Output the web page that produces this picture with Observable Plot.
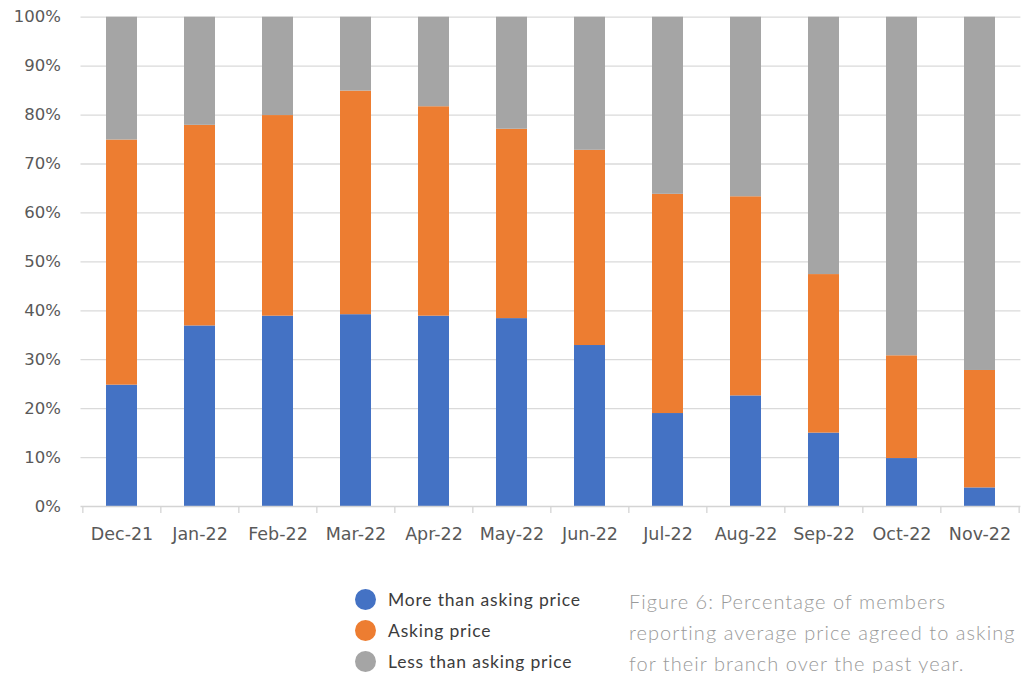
<!DOCTYPE html>
<html><head><meta charset="utf-8">
<script src="https://cdn.jsdelivr.net/npm/d3@7"></script>
<script src="https://cdn.jsdelivr.net/npm/@observablehq/plot@0.6"></script>
<style>
html,body{margin:0;padding:0;background:#fff;}
body{width:1024px;height:673px;overflow:hidden;position:relative;}
#chart{position:absolute;left:0;top:0;}
#chart svg, #chart svg text{font-family:"DejaVu Sans",sans-serif !important;}
.legend{position:absolute;left:355px;top:584px;font-family:Lato,"Open Sans",sans-serif;font-size:17.5px;letter-spacing:0.8px;color:#3c3c3c;}
.legend .row{height:31px;display:flex;align-items:center;}
.legend .sw{width:21px;height:21px;border-radius:50%;margin-right:12px;flex:none;}
.caption{position:absolute;left:629px;top:586px;font-family:Lato,sans-serif;font-weight:300;font-size:20px;letter-spacing:1.05px;line-height:31px;color:#9a9a9a;white-space:nowrap;}
</style>
</head><body>
<div id="chart"></div>
<div class="legend" id="legend"></div>
<div class="caption">Figure 6: Percentage of members<br>reporting average price agreed to asking<br>for their branch over the past year.</div>
<script>
const months = ["Dec-21","Jan-22","Feb-22","Mar-22","Apr-22","May-22","Jun-22","Jul-22","Aug-22","Sep-22","Oct-22","Nov-22"];
const seriesNames = ["More than asking price","Asking price","Less than asking price"];
const moreThan = [24.8,36.9,38.9,39.2,38.9,38.4,32.9,19.0,22.6,15.0,9.8,3.8];
const asking   = [50.1,41.0,41.0,45.7,42.8,38.7,39.9,44.8,40.7,32.4,21.0,24.0];
const lessThan = [25.1,22.1,20.1,15.1,18.3,22.9,27.2,36.2,36.7,52.6,69.2,72.2];
const colors = ["#4472C4","#ED7D31","#A5A5A5"];
const yTicks = [0,10,20,30,40,50,60,70,80,90,100];
const gridTicks = [10,20,30,40,50,60,70,80,90,100];

const seriesValues = [moreThan, asking, lessThan];
const data = months.flatMap((m, i) => seriesNames.map((s, k) => ({month: m, series: s, value: seriesValues[k][i]})));

const step = (1024 - 80.5 - 3.6) / months.length;

const chart = Plot.plot({
  width: 1024,
  height: 560,
  marginLeft: 80.5,
  marginRight: 3.6,
  marginTop: 16.7,
  marginBottom: 54,
  style: {fontFamily: "DejaVu Sans", fontSize: "16.5px", color: "#595959", background: "white"},
  x: {domain: months, paddingInner: 0.608, paddingOuter: 0.304, label: null},
  y: {domain: [0, 100], label: null},
  color: {domain: seriesNames, range: colors},
  marks: [
    Plot.ruleY(gridTicks, {stroke: "#dadada", strokeWidth: 1.3}),
    Plot.barY(data, {x: "month", y: "value", fill: "series", order: seriesNames}),
    Plot.ruleY([0], {stroke: "#d4d4d4", strokeWidth: 1.5}),
    Plot.ruleX(months, {x: d => d, y1: 0, y2: 0, dx: -step / 2, insetBottom: -7, stroke: "#d4d4d4", strokeWidth: 1.3}),
    Plot.ruleX([months[months.length - 1]], {x: d => d, y1: 0, y2: 0, dx: step / 2, insetBottom: -7, stroke: "#d4d4d4", strokeWidth: 1.3}),
    Plot.axisY({ticks: yTicks, tickSize: 0, tickPadding: 20, tickFormat: d => d + "%", label: null, fill: "#595959", fontSize: 16.5}),
    Plot.axisX({tickSize: 0, tickPadding: 21, label: null, fill: "#595959", fontSize: 17.5})
  ]
});
document.getElementById("chart").appendChild(chart);

const legend = document.getElementById("legend");
seriesNames.forEach((s, k) => {
  const row = document.createElement("div");
  row.className = "row";
  const sw = document.createElement("span");
  sw.className = "sw";
  sw.style.background = colors[k];
  const t = document.createElement("span");
  t.textContent = s;
  row.appendChild(sw); row.appendChild(t);
  legend.appendChild(row);
});
</script>
</body></html>
